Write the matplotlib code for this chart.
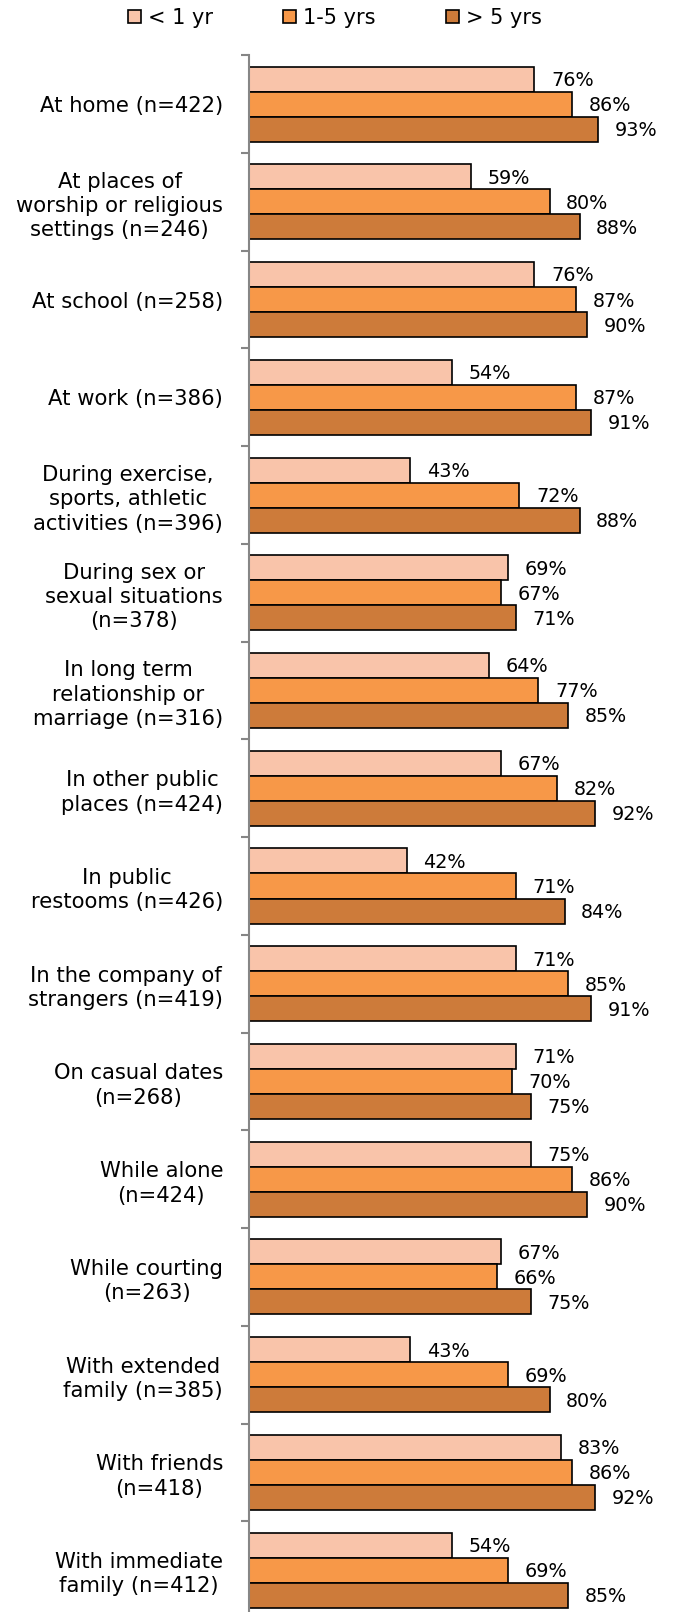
import matplotlib
matplotlib.use("Agg")
import matplotlib.pyplot as plt
from matplotlib.patches import Patch
import numpy as np

categories = [
    "At home (n=422)",
    "At places of\nworship or religious\nsettings (n=246)",
    "At school (n=258)",
    "At work (n=386)",
    "During exercise,\nsports, athletic\nactivities (n=396)",
    "During sex or\nsexual situations\n(n=378)",
    "In long term\nrelationship or\nmarriage (n=316)",
    "In other public\nplaces (n=424)",
    "In public\nrestooms (n=426)",
    "In the company of\nstrangers (n=419)",
    "On casual dates\n(n=268)",
    "While alone\n(n=424)",
    "While courting\n(n=263)",
    "With extended\nfamily (n=385)",
    "With friends\n(n=418)",
    "With immediate\nfamily (n=412)",
]

series_names = ["< 1 yr", "1-5 yrs", "> 5 yrs"]
under_1yr = [76, 59, 76, 54, 43, 69, 64, 67, 42, 71, 71, 75, 67, 43, 83, 54]
yrs_1_5 = [86, 80, 87, 87, 72, 67, 77, 82, 71, 85, 70, 86, 66, 69, 86, 69]
over_5yrs = [93, 88, 90, 91, 88, 71, 85, 92, 84, 91, 75, 90, 75, 80, 92, 85]

colors = ["#F9C4AA", "#F79848", "#CD7B3A"]

W, H, DPI = 673, 1612, 100
fig = plt.figure(figsize=(W / DPI, H / DPI), dpi=DPI)
plt.rcParams["font.family"] = ["DejaVu Sans"]

# axes placed in pixel terms: left spine at x=248.7, top at y=55.3
left_px, top_px = 248.7, 55.3
cat_px = 97.73
n = len(categories)
height_px = n * cat_px
unit_px = 3.76  # pixels per percentage point
ax = fig.add_axes([left_px / W, (H - top_px - height_px) / H,
                   100 * unit_px / W, height_px / H])

y = np.arange(n)
bar_h = 0.256
offsets = [-bar_h, 0, bar_h]
values = [under_1yr, yrs_1_5, over_5yrs]

for vals, off, col, name in zip(values, offsets, colors, series_names):
    bars = ax.barh(y + off, vals, height=bar_h, color=col,
                   edgecolor="black", linewidth=1.2, label=name)
    for b, v in zip(bars, vals):
        ax.annotate(f"{v}%", xy=(v, b.get_y() + b.get_height() / 2),
                    xytext=(12, -1), textcoords="offset points",
                    ha="left", va="center", fontsize=13.8,
                    color="black", annotation_clip=False)

ax.set_xlim(0, 100)
ax.set_ylim(n - 0.5, -0.5)

for s in ["top", "right", "bottom"]:
    ax.spines[s].set_visible(False)
ax.spines["left"].set_color("#868686")
ax.spines["left"].set_linewidth(1.5)
ax.set_xticks([])

# boundary ticks between categories, labels at category centers
ax.set_yticks(np.arange(n + 1) - 0.5)
ax.set_yticklabels([])
ax.tick_params(axis="y", which="major", length=6, width=1.5,
               color="#868686")
ax.set_yticks(y, minor=True)
ax.set_yticklabels(categories, minor=True, fontsize=15.2, linespacing=1.27)
ax.tick_params(axis="y", which="minor", length=0, pad=18.5)
for lbl in ax.get_yticklabels(minor=True):
    lbl.set_multialignment("center")

handles = [Patch(facecolor=c, edgecolor="black", linewidth=1.2, label=s)
           for c, s in zip(colors, series_names)]
fig.legend(handles=handles, loc="center", ncol=3,
           bbox_to_anchor=(0.4975, 1 - 18 / H), frameon=False,
           fontsize=15, handlelength=0.62, handleheight=0.62,
           handletextpad=0.31, columnspacing=3.4)

fig.savefig("out.png", dpi=DPI)
